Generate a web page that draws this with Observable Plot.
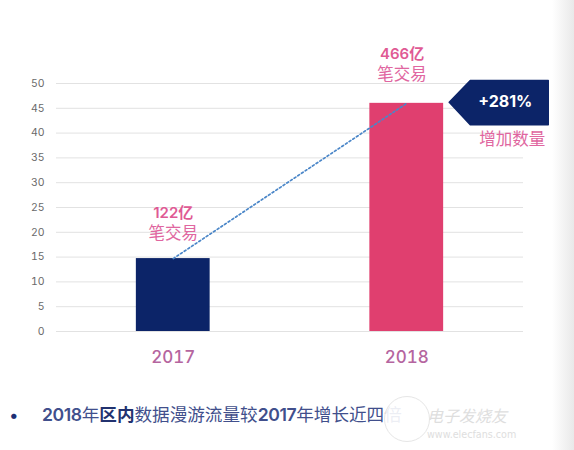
<!DOCTYPE html>
<html><head><meta charset="utf-8">
<script src="https://cdn.jsdelivr.net/npm/d3@7"></script>
<script src="https://cdn.jsdelivr.net/npm/@observablehq/plot@0.6"></script>
<style>
html,body{margin:0;padding:0;width:574px;height:450px;overflow:hidden;background:linear-gradient(to right,#fff 0,#fff 552px,#e9e9e9 574px);font-family:Inter,"Noto Sans CJK SC",sans-serif}
#chart svg{display:block;background:transparent}
#note{position:absolute;left:0;top:402px;height:26px;line-height:26px;font-size:17.6px;color:#414f8c;white-space:nowrap}
#note .dot{position:absolute;left:9px;font-size:17px;color:#1d2f74}
#note .txt{position:absolute;left:42px;white-space:nowrap}
#note .n{font-weight:600;letter-spacing:-.4px}
#note b{color:#22326f}
#mark{position:absolute;left:384px;top:396px;width:180px;height:54px}
#mark .c{position:absolute;left:0;top:0;width:44px;height:44px;border-radius:50%;background:rgba(255,255,255,.9);border:1px solid #e6e6e6}
#mark .a{position:absolute;left:43px;top:8px;font-size:16px;line-height:22px;font-family:"Noto Sans CJK SC";color:#dedede;font-style:italic}
#mark .b{position:absolute;left:43px;top:33px;font-size:9.6px;line-height:12px;color:#dedede;font-family:"DejaVu Sans"}
</style></head><body>
<div id="chart"></div>
<div id="note"><span class="dot">•</span><span class="txt"><span class="n">2018</span>年<b>区内</b>数据漫游流量较<span class="n">2017</span>年增长近四倍</span></div>
<div id="mark"><div class="c"></div><div class="a">电子发烧友</div><div class="b">www.elecfans.com</div></div>
<script>
const years = [2017, 2018];
const values = [14.7, 46];
const barColors = ["#0c2468", "#e03f6f"];
const yTicks = [0,5,10,15,20,25,30,35,40,45,50];
const barHalf = 0.158;

const countLabels = ["122亿","466亿"];
const countX = [2017,2017.98];
const countY = [23.8,56];
const unitLabel = "笔交易";
const unitY = [19.8,51.8];

const calloutX = [2018.182,2018.272,2018.606,2018.606,2018.272,2018.182];
const calloutY = [46.2,50.6,50.6,41.7,41.7,46.2];
const bars = years.map((y,i)=>({year:y,value:values[i],color:barColors[i]}));
const counts = countLabels.map((t,i)=>({t,x:countX[i],y:countY[i]}));
const units = countX.map((x,i)=>({t:unitLabel,x,y:unitY[i]}));
const callout = calloutX.map((x,i)=>({x,y:calloutY[i]}));
const trend = years.map((y,i)=>({x:y,y:values[i]}));

const plot = Plot.plot({
  width:574,height:375,
  marginTop:83,marginBottom:44,marginLeft:56,marginRight:51,
  style:{background:"transparent",fontFamily:'Inter,"Noto Sans CJK SC",sans-serif'},
  x:{domain:[2016.5,2018.5],label:null},
  y:{domain:[0,50],label:null},
  marks:[
    Plot.ruleY(yTicks,{stroke:"#e2e2e2",strokeWidth:1}),
    Plot.axisY({ticks:yTicks,tickSize:0,tickPadding:12,fontSize:10.5,color:"#6a6a6a",label:null,anchor:"left"}),
    Plot.axisX({ticks:years,tickFormat:"d",tickSize:0,tickPadding:19,fontSize:17,fontWeight:500,color:"#b5659f",label:null,anchor:"bottom"}),
    Plot.rectY(bars,{x1:d=>d.year-barHalf,x2:d=>d.year+barHalf,y1:0,y2:"value",fill:"color"}),
    Plot.line(trend,{x:"x",y:"y",stroke:"#4a86c8",strokeWidth:1.7,strokeDasharray:"2 2.4"}),
    Plot.line(callout,{x:"x",y:"y",fill:"#0c2468",stroke:"#0c2468"}),
    Plot.text(["+281%"],{x:[2018.422],y:[46.2],text:d=>d,fill:"#fff",fontSize:16,fontWeight:700}),
    Plot.text(["增加数量"],{x:[2018.452],y:[38.7],text:d=>d,fill:"#e066a0",fontSize:16.5}),
    Plot.text(counts,{x:"x",y:"y",text:"t",fill:"#df5a94",fontSize:15,fontWeight:600}),
    Plot.text(units,{x:"x",y:"y",text:"t",fill:"#e066a0",fontSize:16.5})
  ]
});
document.getElementById("chart").append(plot);
</script>
</body></html>
